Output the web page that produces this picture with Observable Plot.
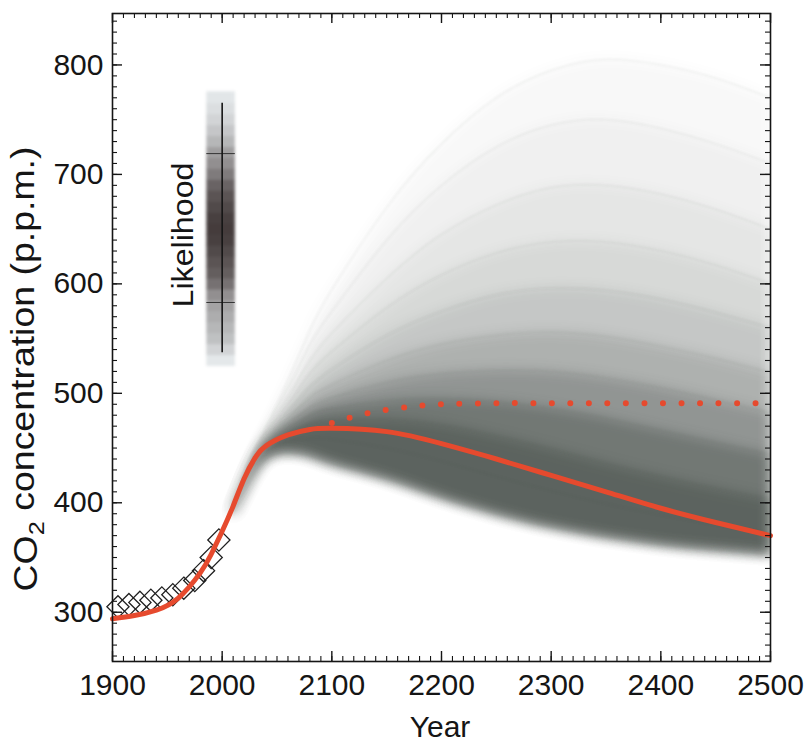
<!DOCTYPE html>
<html><head><meta charset="utf-8">
<script src="https://cdn.jsdelivr.net/npm/d3@7"></script>
<script src="https://cdn.jsdelivr.net/npm/@observablehq/plot@0.6"></script>
<style>
body{margin:0;background:#fff}
svg{font-family:"Liberation Sans",Arial,Helvetica,sans-serif}
</style>
</head><body><div id="chart"></div>
<script>
// ---------- data ----------
const xTicks = [1900, 2000, 2100, 2200, 2300, 2400, 2500];
const yTicks = [300, 400, 500, 600, 700, 800];

// observations (diamonds)
const obsYears  = [1905, 1915, 1925, 1935, 1945, 1955, 1965, 1975, 1983, 1990, 1997];
const obsValues = [305, 307, 309, 311, 313, 316, 322, 329, 338, 350, 366];

// best-estimate path (solid red)
const redYears  = [1900, 1920, 1940, 1960, 1980, 1990, 2000, 2010, 2020, 2030, 2040, 2060, 2080, 2100, 2150, 2200, 2250, 2300, 2350, 2400, 2450, 2500];
const redValues = [294, 297, 302, 313, 336, 353, 374, 397, 422, 441, 452, 462, 467, 468, 465, 454, 440, 425, 410, 395, 382, 370];

// dotted red path
const dotYears  = [2100, 2117, 2133, 2150, 2175, 2200, 2250, 2300, 2400, 2500];
const dotValues = [473, 478, 482, 485, 488, 490, 491, 491, 491, 491];

// ensemble members (grey fan), values at fanYears
const fanYears = [2010, 2025, 2040, 2060, 2080, 2100, 2150, 2200, 2250, 2300, 2350, 2400, 2450, 2500];
const members = [
  [400, 440, 470, 512, 558, 595, 670, 728, 770, 795, 805, 800, 788, 770],
  [399, 438, 467, 505, 545, 575, 640, 690, 725, 745, 750, 742, 728, 710],
  [398, 436, 464, 497, 530, 555, 605, 645, 672, 688, 690, 682, 668, 650],
  [397, 434, 462, 490, 518, 538, 578, 608, 628, 638, 638, 630, 617, 600],
  [396, 432, 459, 484, 506, 522, 553, 575, 590, 596, 594, 586, 574, 560],
  [395, 430, 457, 478, 496, 508, 530, 545, 553, 556, 552, 543, 532, 519],
  [394, 429, 455, 473, 487, 496, 510, 518, 521, 520, 514, 505, 494, 482],
  [393, 427, 453, 469, 480, 486, 493, 495, 492, 486, 477, 466, 455, 444],
  [392, 425, 451, 464, 472, 475, 476, 471, 461, 449, 436, 424, 413, 403],
  [390, 421, 446, 456, 459, 458, 450, 438, 424, 411, 399, 389, 380, 372],
  [388, 418, 440, 446, 443, 436, 422, 405, 390, 378, 369, 362, 357, 353]
];
// density bands: [upper member, lower member] and their weight
const bandPairs   = [[0,10],[1,10],[2,10],[3,10],[4,10],[5,10],[6,10],[7,10],[8,10]];
const bandWeights = [0.035, 0.04, 0.05, 0.07, 0.10, 0.15, 0.22, 0.30, 0.30];

// likelihood legend profile
const legendPpm  = [530,540,550,560,570,580,590,600,610,620,630,640,650,660,670,680,690,700,710,720,730,740,750,760,770];
const legendLik  = [0.05,0.15,0.25,0.30,0.35,0.40,0.50,0.65,0.75,0.80,0.85,0.90,0.92,0.90,0.85,0.80,0.72,0.60,0.50,0.42,0.30,0.22,0.15,0.10,0.06];
const legendSpan = [537, 765];
const legendQuantiles = [583, 719];

// ---------- tables ----------
const obs = obsYears.map((x, i) => ({x, y: obsValues[i]}));
const red = redYears.map((x, i) => ({x, y: redValues[i]}));
const dots = dotYears.map((x, i) => ({x, y: dotValues[i]}));
const memberRows = members.flatMap((m, k) => m.map((v, i) => ({m: k, x: fanYears[i], y: v})));
const bands = bandPairs.map(([a, b]) => fanYears.map((x, i) => ({x, hi: members[a][i], lo: members[b][i]})));
const legendCells = legendPpm.map((p, i) => ({p, v: legendLik[i]}));

// layout for the legend bar (years)
const legendX = [1986, 2012];
const legendCenter = 2000;

const W = 807, H = 742, ML = 112, MR = 37, MT = 13, MB = 81;
const innerW = W - ML - MR, innerH = H - MT - MB;
const xMinor = d3.range(1900, 2501, 10);
const yMinor = d3.range(260, 850, 10);
const ink = "#151515";
const redCol = "#e64a2e";
const big = 10, small = 5;

const chart = Plot.plot({
  width: W, height: H,
  marginLeft: ML, marginRight: MR, marginTop: MT, marginBottom: MB,
  x: {domain: [1900, 2500]},
  y: {domain: [255, 847]},
  color: {type: "linear", domain: [0, 1], range: ["#edf2f4", "#362c2c"]},
  marks: [
    ...bands.map((rows, k) => Plot.areaY(rows, {x: "x", y1: "lo", y2: "hi", fill: "#2c3430", fillOpacity: bandWeights[k], curve: "natural", clip: true})),
    Plot.line(memberRows, {x: "x", y: "y", z: "m", stroke: "#3e4845", strokeOpacity: 0.08, strokeWidth: 1.2, curve: "natural", clip: true}),
    // likelihood legend
    Plot.rect(legendCells, {x1: legendX[0], x2: legendX[1], y1: d => d.p - 5.5, y2: d => d.p + 5.5, fill: "v"}),
    Plot.ruleY(legendQuantiles, {x1: legendX[0], x2: legendX[1], stroke: "#333", strokeWidth: 1}),
    Plot.ruleX([legendCenter], {y1: legendSpan[0], y2: legendSpan[1], stroke: ink, strokeWidth: 1.6}),
    // observations
    Plot.dot(obs, {x: "x", y: "y", symbol: "diamond2", r: 10, stroke: "#202020", strokeWidth: 1.3, fill: "none"}),
    // projections
    Plot.line(dots, {x: "x", y: "y", stroke: redCol, strokeWidth: 6, strokeDasharray: "0 18.5", strokeLinecap: "round", curve: "natural"}),
    Plot.line(red, {x: "x", y: "y", stroke: redCol, strokeWidth: 5, curve: "natural"}),
    Plot.frame({stroke: ink, strokeWidth: 1.6}),
    // inward ticks, all four sides
    Plot.tickX(xTicks, {x: d => d, insetTop: innerH - big, stroke: ink, strokeWidth: 1.4}),
    Plot.tickX(xMinor, {x: d => d, insetTop: innerH - small, stroke: ink, strokeWidth: 1.1}),
    Plot.tickX(xTicks, {x: d => d, insetBottom: innerH - big, stroke: ink, strokeWidth: 1.4}),
    Plot.tickX(xMinor, {x: d => d, insetBottom: innerH - small, stroke: ink, strokeWidth: 1.1}),
    Plot.tickY(yTicks, {y: d => d, insetRight: innerW - big, stroke: ink, strokeWidth: 1.4}),
    Plot.tickY(yMinor, {y: d => d, insetRight: innerW - small, stroke: ink, strokeWidth: 1.1}),
    Plot.tickY(yTicks, {y: d => d, insetLeft: innerW - big, stroke: ink, strokeWidth: 1.4}),
    Plot.tickY(yMinor, {y: d => d, insetLeft: innerW - small, stroke: ink, strokeWidth: 1.1}),
    // tick labels
    Plot.axisX(xTicks, {anchor: "bottom", tickSize: 0, tickPadding: 12, fontSize: 30, tickFormat: d => String(d), label: null, fill: ink}),
    Plot.axisY(yTicks, {anchor: "left", tickSize: 0, tickPadding: 9, fontSize: 30, tickFormat: d => String(d), label: null, fill: ink})
  ]
});

document.getElementById("chart").appendChild(chart);
const svg = d3.select(chart);
svg.selectAll('g[aria-label="area"]').style("filter", "blur(6px)");
svg.selectAll('g[aria-label="line"]').filter((d, i) => i === 0).style("filter", "blur(0.8px)");
svg.selectAll('g[aria-label="rect"]').style("filter", "blur(1.5px)");

// axis titles and legend label
svg.append("text")
  .attr("x", 440).attr("y", 737)
  .attr("text-anchor", "middle").attr("font-size", 30).attr("fill", ink)
  .text("Year");

const yl = svg.append("text")
  .attr("transform", "translate(37,369) rotate(-90)")
  .attr("text-anchor", "middle").attr("font-size", 33).attr("fill", ink)
  .attr("textLength", 445).attr("lengthAdjust", "spacingAndGlyphs");
yl.append("tspan").text("CO");
yl.append("tspan").attr("dy", "0.3em").attr("font-size", "0.68em").text("2");
yl.append("tspan").attr("dy", "-0.3em").text(" concentration (p.p.m.)");

svg.append("text")
  .attr("transform", "translate(193,235) rotate(-90)")
  .attr("text-anchor", "middle").attr("font-size", 29).attr("fill", ink)
  .attr("textLength", 145).attr("lengthAdjust", "spacingAndGlyphs")
  .text("Likelihood");
</script>
</body></html>
